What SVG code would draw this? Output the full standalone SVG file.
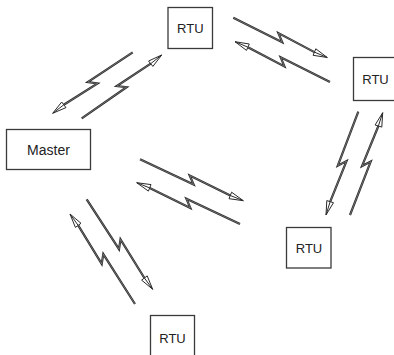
<svg xmlns="http://www.w3.org/2000/svg" xmlns:xlink="http://www.w3.org/1999/xlink" width="394" height="355" viewBox="0 0 394 355">
<style>
.box{fill:#fff;stroke:#3a3a3a;stroke-width:1.3}
.lbl{font-family:"Liberation Sans",Arial,sans-serif;font-size:13px;fill:#222;text-anchor:middle}
.so{fill:none;stroke:#2a2a2a;stroke-width:2.2;stroke-linejoin:miter}
.si{fill:none;stroke:#8a8a8a;stroke-width:0.7;stroke-linejoin:miter}
.ah{fill:#fff;stroke:#2a2a2a;stroke-width:1;stroke-linejoin:miter}
</style>
<defs>
<path id="s1" d="M132.7,52.3 L87.8,82.1 L97.6,83.5 L63.8,104.8"/>
<path id="s2" d="M81.7,118.3 L126.6,87.2 L116.8,86.1 L150.7,63.7"/>
<path id="s3" d="M233.3,17.8 L282.2,42.2 L278.4,33.1 L314.4,52.1"/>
<path id="s4" d="M330,82 L280.7,57.3 L284.4,66.4 L247.9,47.2"/>
<path id="s5" d="M358.3,111.7 L337.8,165.7 L346.5,161.1 L330.2,201.6"/>
<path id="s6" d="M350,215 L370.7,161.6 L362,166.1 L378.4,126"/>
<path id="s7" d="M140,159.3 L193.6,184.6 L189.7,175.5 L230.3,195.5"/>
<path id="s8" d="M240,224 L186.4,198.8 L190.3,207.9 L149.7,187.9"/>
<path id="s9" d="M135,304 L103.3,254.1 L101.7,263.9 L78.2,225.4"/>
<path id="s10" d="M86.7,199.3 L119,249.2 L120.5,239.4 L144.4,278"/>
</defs>
<g id="connectors">
<g id="c1"><use xlink:href="#s1" class="so"/><use xlink:href="#s1" class="si"/><path class="ah" d="M66,107.6 L52.7,113.3 L61.7,102 Z M63.8,104.8 L52.7,113.3"/></g>
<g id="c2"><use xlink:href="#s2" class="so"/><use xlink:href="#s2" class="si"/><path class="ah" d="M148.6,61 L161.7,55 L152.9,66.4 Z M150.7,63.7 L161.7,55"/></g>
<g id="c3"><use xlink:href="#s3" class="so"/><use xlink:href="#s3" class="si"/><path class="ah" d="M315.8,48.8 L327.3,57.5 L313.1,55.3 Z M314.4,52.1 L327.3,57.5"/></g>
<g id="c4"><use xlink:href="#s4" class="so"/><use xlink:href="#s4" class="si"/><path class="ah" d="M246.5,50.4 L235,41.7 L249.3,44 Z M247.9,47.2 L235,41.7"/></g>
<g id="c5"><use xlink:href="#s5" class="so"/><use xlink:href="#s5" class="si"/><path class="ah" d="M333.5,202.7 L326,215 L326.8,200.6 Z M330.2,201.6 L326,215"/></g>
<g id="c6"><use xlink:href="#s6" class="so"/><use xlink:href="#s6" class="si"/><path class="ah" d="M375.1,125 L382.7,112.7 L381.8,127.1 Z M378.4,126 L382.7,112.7"/></g>
<g id="c7"><use xlink:href="#s7" class="so"/><use xlink:href="#s7" class="si"/><path class="ah" d="M231.6,192.2 L243.3,200.7 L229,198.7 Z M230.3,195.5 L243.3,200.7"/></g>
<g id="c8"><use xlink:href="#s8" class="so"/><use xlink:href="#s8" class="si"/><path class="ah" d="M148.4,191.1 L136.7,182.7 L151,184.6 Z M149.7,187.9 L136.7,182.7"/></g>
<g id="c9"><use xlink:href="#s9" class="so"/><use xlink:href="#s9" class="si"/><path class="ah" d="M75.4,227.4 L70,214 L81,223.3 Z M78.2,225.4 L70,214"/></g>
<g id="c10"><use xlink:href="#s10" class="so"/><use xlink:href="#s10" class="si"/><path class="ah" d="M147.2,275.9 L152.7,289.3 L141.6,280.1 Z M144.4,278 L152.7,289.3"/></g>
</g>
<g id="master"><rect class="box" x="6.5" y="129.5" width="84" height="40"/><text class="lbl" x="48.5" y="155" style="font-size:14px">Master</text></g>
<g id="rtu-top"><rect class="box" x="168" y="7.5" width="44.5" height="41"/><text class="lbl" x="190.3" y="33.3">RTU</text></g>
<g id="rtu-right"><rect class="box" x="353.5" y="57.5" width="45" height="43"/><text class="lbl" x="375.5" y="84">RTU</text></g>
<g id="rtu-lower-right"><rect class="box" x="286.5" y="227.5" width="44.5" height="40.5"/><text class="lbl" x="309" y="252.5">RTU</text></g>
<g id="rtu-bottom"><rect class="box" x="150.5" y="315.5" width="44" height="45"/><text class="lbl" x="172.5" y="342.5">RTU</text></g>
</svg>
